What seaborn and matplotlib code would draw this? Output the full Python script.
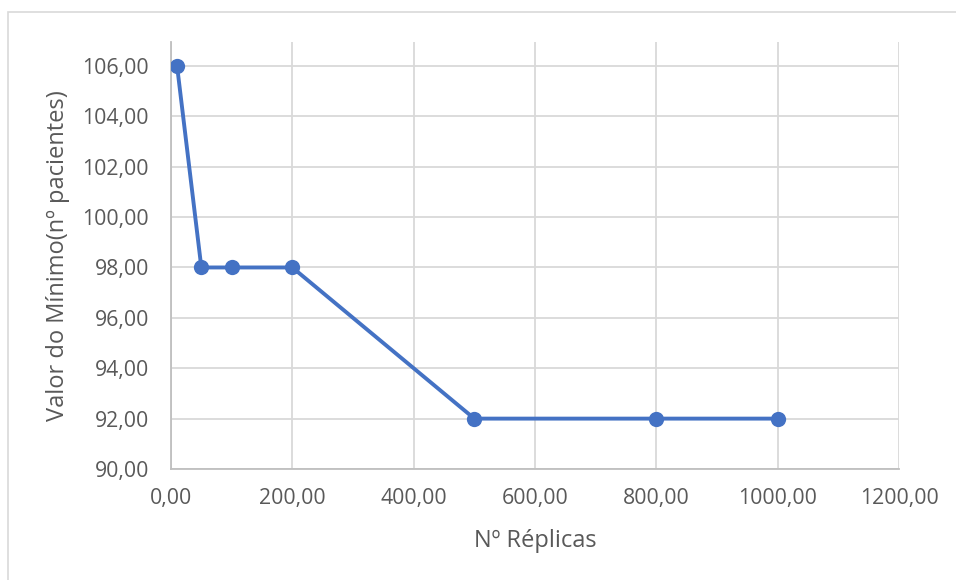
import matplotlib
matplotlib.use("Agg")
import matplotlib.pyplot as plt
import matplotlib.ticker as mticker
from matplotlib.patches import Rectangle
import seaborn as sns
import pandas as pd

# Number of replicas vs. minimum value found
replicas = [10, 50, 100, 200, 500, 800, 1000]
minimum = [106, 98, 98, 98, 92, 92, 92]
x_ticks = [0, 200, 400, 600, 800, 1000, 1200]
y_ticks = [90, 92, 94, 96, 98, 100, 102, 104, 106]

df = pd.DataFrame({"replicas": replicas, "minimum": minimum})

sns.set_theme(style="white")
plt.rcParams["font.family"] = ["Open Sans", "DejaVu Sans"]

text_color = "#595959"
grid_color = "#D9D9D9"
line_color = "#4472C4"

fig = plt.figure(figsize=(9.56, 5.8), dpi=100)
fig.patch.set_facecolor("white")

# Outer chart frame
fig.add_artist(Rectangle((8 / 956, -0.05), 1.0, 1 - 12 / 580 + 0.05,
                         transform=fig.transFigure, fill=False,
                         edgecolor="#D9D9D9", linewidth=1.2))

ax = fig.add_axes([171 / 956, 1 - 469 / 580, (899 - 171) / 956, (469 - 42) / 580])

sns.lineplot(data=df, x="replicas", y="minimum", ax=ax, color=line_color,
             linewidth=2.8, marker="o", markersize=11, markeredgewidth=0,
             markerfacecolor=line_color, zorder=3)

ax.set_xlim(0, 1200)
ax.set_ylim(90, 106.95)
ax.set_xticks(x_ticks)
ax.set_yticks(y_ticks)

fmt = mticker.FuncFormatter(lambda v, p: f"{v:.2f}".replace(".", ","))
ax.xaxis.set_major_formatter(fmt)
ax.yaxis.set_major_formatter(fmt)

ax.grid(True, color=grid_color, linewidth=1.3)
ax.set_axisbelow(True)
for side in ["top", "right"]:
    ax.spines[side].set_visible(False)
for side in ["left", "bottom"]:
    ax.spines[side].set_color("#BFBFBF")
    ax.spines[side].set_linewidth(1.3)

ax.tick_params(axis="both", length=0, labelsize=15.3, labelcolor=text_color)
ax.tick_params(axis="y", pad=16)
ax.tick_params(axis="x", pad=14)

ax.set_xlabel("Nº Réplicas", fontsize=17, color=text_color, labelpad=14)
ax.set_ylabel("Valor do Mínimo(nº pacientes)", fontsize=17, color=text_color,
              labelpad=9)

fig.savefig("out.png", dpi=100, facecolor="white")
